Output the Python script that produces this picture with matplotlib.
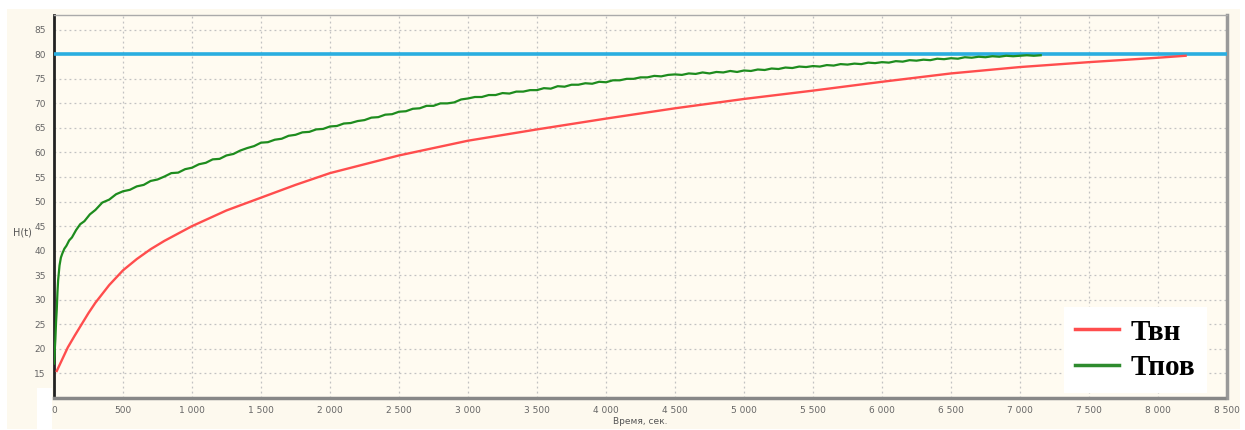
import matplotlib
matplotlib.use("Agg")
import matplotlib.pyplot as plt
from matplotlib.patches import Rectangle
from matplotlib.ticker import FuncFormatter, MultipleLocator
from matplotlib.lines import Line2D

# ---------------- data ----------------
red_t = [20, 50, 75, 100, 150, 200, 250, 300, 400, 500, 600, 700, 800, 1000,
         1250, 1500, 1750, 2000, 2500, 3000, 3500, 4000, 4500, 5000, 5500, 6000,
         6500, 7000, 7500, 8000, 8200]
red_v = [15.5, 17.3, 18.8, 20.3, 22.7, 25.0, 27.3, 29.4, 33.0, 36.0, 38.3,
         40.3, 42.0, 45.0, 48.2, 50.8, 53.4, 55.8, 59.4, 62.4, 64.7, 66.9, 69.0,
         70.9, 72.6, 74.4, 76.1, 77.4, 78.4, 79.3, 79.7]

green_early_t = [0, 5, 10, 15, 20, 25, 30, 40, 50, 60, 75, 90, 110, 130, 160, 190,
                 220, 260, 300, 350, 400, 450]
green_early_v = [17.0, 19.5, 22.0, 25.5, 28.0, 31.5, 34.0, 37.0, 38.6, 39.4, 40.4,
                 41.0, 42.1, 42.7, 44.2, 45.4, 46.0, 47.4, 48.3, 49.8, 50.4, 51.5]

green_step = 50
green_start = 500
green_v = [52.1, 52.4, 53.1, 53.4, 54.2, 54.5, 55.1, 55.8, 55.9, 56.6,
           56.9, 57.6, 57.9, 58.6, 58.7, 59.4, 59.7, 60.4, 60.9, 61.3,
           62.0, 62.1, 62.6, 62.8, 63.4, 63.6, 64.1, 64.2, 64.7, 64.8,
           65.3, 65.4, 65.9, 66.0, 66.4, 66.6, 67.1, 67.2, 67.7, 67.8,
           68.3, 68.4, 68.9, 69.0, 69.5, 69.5, 70.0, 70.0, 70.2, 70.8,
           71.0, 71.3, 71.3, 71.7, 71.7, 72.1, 72.0, 72.4, 72.4, 72.7,
           72.7, 73.1, 73.0, 73.5, 73.4, 73.8, 73.8, 74.1, 74.0, 74.4,
           74.3, 74.7, 74.7, 75.0, 75.0, 75.3, 75.3, 75.6, 75.5, 75.8,
           75.9, 75.8, 76.1, 76.0, 76.3, 76.1, 76.4, 76.3, 76.6, 76.4,
           76.7, 76.6, 76.9, 76.8, 77.1, 77.0, 77.3, 77.2, 77.5, 77.4,
           77.6, 77.5, 77.8, 77.7, 78.0, 77.9, 78.1, 78.0, 78.3, 78.2,
           78.4, 78.3, 78.6, 78.5, 78.8, 78.7, 78.9, 78.8, 79.1, 79.0,
           79.2, 79.1, 79.4, 79.3, 79.5, 79.4, 79.6, 79.5, 79.7, 79.6,
           79.7, 79.8, 79.7, 79.8]
green_t = green_early_t + [green_start + i * green_step for i in range(len(green_v))]
green_all = green_early_v + green_v

limit_value = 80
series_labels = ["Твн", "Тпов"]
xlabel = "Время, сек."
ylabel = "H(t)"

# ---------------- figure ----------------
W, H = 1245, 430
fig = plt.figure(figsize=(W / 100, H / 100), dpi=100)
fig.patch.set_facecolor("white")
cream = "#fdf9ee"
fig.add_artist(Rectangle((7 / W, 1 - 429 / H), (1240 - 7) / W, (429 - 9) / H,
                         transform=fig.transFigure, facecolor=cream,
                         edgecolor="none", zorder=-10))
fig.add_artist(Rectangle((37 / W, 0), (52 - 37) / W, (430 - 388) / H,
                         transform=fig.transFigure, facecolor="white",
                         edgecolor="none", zorder=-9))

left, right, top, bottom = 54, 1227, 15, 398
ax = fig.add_axes([left / W, 1 - bottom / H, (right - left) / W, (bottom - top) / H])
ax.set_facecolor("#fffbf1")

ax.set_xlim(0, 8500)
ax.set_ylim(10, 88)
ax.xaxis.set_major_locator(MultipleLocator(500))
ax.set_yticks(list(range(15, 90, 5)))
ax.xaxis.set_major_formatter(FuncFormatter(lambda v, p: f"{int(v):,}".replace(",", " ")))

ax.grid(True, color="#c2c2c2", linestyle=(0, (1.5, 2.5)), linewidth=0.9)
ax.set_axisbelow(True)

ax.axhline(limit_value, color="#2aaee0", linewidth=2.6, zorder=3)
ax.plot(red_t, red_v, color="#ff4d4d", linewidth=1.7, zorder=4)
ax.plot(green_t, green_all, color="#1e8c1e", linewidth=1.6, zorder=5)

ax.tick_params(axis="both", length=0, labelsize=6.5, labelcolor="#666666", pad=6)
ax.set_xlabel(xlabel, fontsize=6.5, color="#555555", labelpad=1)
ax.set_ylabel(ylabel, fontsize=7, color="#555555", rotation=0, labelpad=4,
              va="center", ha="center")
ax.yaxis.set_label_coords(-0.027, 0.433)

ax.spines["left"].set_color("#222222")
ax.spines["left"].set_linewidth(2.0)
ax.spines["bottom"].set_color("#888888")
ax.spines["bottom"].set_linewidth(2.5)
ax.spines["bottom"].set_linestyle((0, (1, 1)))
ax.spines["top"].set_color("#aaaaaa")
ax.spines["top"].set_linewidth(1.0)
ax.spines["right"].set_color("#999999")
ax.spines["right"].set_linewidth(2.5)
ax.spines["right"].set_linestyle((0, (1, 1)))

handles = [Line2D([], [], color="#ff4d4d", linewidth=2.5),
           Line2D([], [], color="#2e8b2e", linewidth=2.5)]
leg = ax.legend(handles, series_labels, loc="lower right",
                bbox_to_anchor=(0.983, 0.013),
                prop={"family": "Liberation Serif", "weight": "bold", "size": 21},
                frameon=True, fancybox=False, framealpha=1, facecolor="white",
                edgecolor="none", handlelength=1.5, handletextpad=0.4,
                labelspacing=0.3, borderpad=0.4, borderaxespad=0.0)
leg.set_zorder(10)

fig.savefig("out.png", dpi=100, facecolor=fig.get_facecolor())
